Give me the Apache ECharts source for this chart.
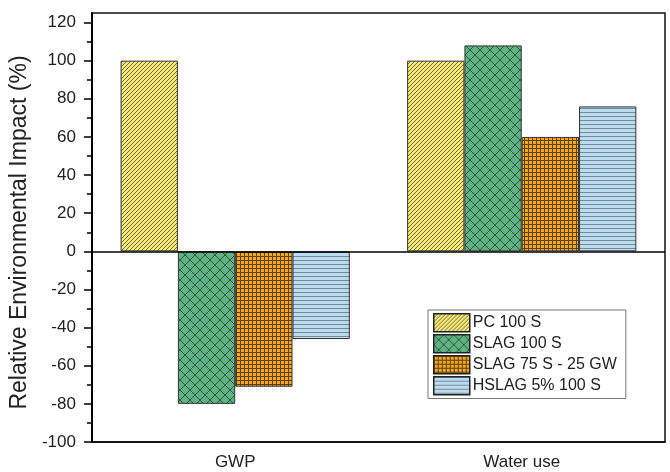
<!DOCTYPE html>
<html>
<head>
<meta charset="utf-8">
<title>Relative Environmental Impact</title>
<script src="https://cdn.jsdelivr.net/npm/echarts@6/dist/echarts.min.js"></script>
<style>
	html, body { margin: 0; padding: 0; background: #fff; }
	#chart { width: 670px; height: 472px; }
</style>
</head>
<body>
<div id="chart"></div>
<script>
var categories = ['GWP', 'Water use'];
var seriesNames = ['PC 100 S', 'SLAG 100 S', 'SLAG 75 S - 25 GW', 'HSLAG 5% 100 S'];
var pc100 = [100, 100];
var slag100 = [-80, 108];
var slag75 = [-71, 60];
var hslag = [-46, 76];
var majorTicks = [-100, -80, -60, -40, -20, 0, 20, 40, 60, 80, 100, 120];
var minorTicks = [-90, -70, -50, -30, -10, 10, 30, 50, 70, 90, 110];

var main = {
	init: function() {
		main.chart()
	},
	// 画填充图案
	pattern: function(bg, fg, size, draw) {
		var c = document.createElement('canvas');
		c.width = size;
		c.height = size;
		var ctx = c.getContext('2d');
		ctx.fillStyle = bg;
		ctx.fillRect(0, 0, size, size);
		ctx.strokeStyle = fg;
		ctx.lineWidth = 1;
		draw(ctx, size);
		return { image: c, repeat: 'repeat' };
	},
	chart: function() {
		var myChart = echarts.init(document.getElementById('chart'));
		var font = 'Liberation Sans';

		var diag = main.pattern('#f7ea78', '#6e6a35', 4, function(ctx, s) {
			ctx.beginPath();
			ctx.moveTo(-1, s + 1); ctx.lineTo(s + 1, -1);
			ctx.moveTo(-1, 1); ctx.lineTo(1, -1);
			ctx.moveTo(s - 1, s + 1); ctx.lineTo(s + 1, s - 1);
			ctx.stroke();
		});
		var cross = main.pattern('#5fb283', '#2b5a3c', 10, function(ctx, s) {
			ctx.beginPath();
			ctx.moveTo(0, 0); ctx.lineTo(s, s);
			ctx.moveTo(s, 0); ctx.lineTo(0, s);
			ctx.stroke();
		});
		var grid = main.pattern('#f6a91c', '#5c4010', 4, function(ctx, s) {
			ctx.beginPath();
			ctx.moveTo(0.5, 0); ctx.lineTo(0.5, s);
			ctx.moveTo(0, 0.5); ctx.lineTo(s, 0.5);
			ctx.stroke();
		});
		var horiz = main.pattern('#badcf2', '#7a8892', 4, function(ctx, s) {
			ctx.beginPath();
			ctx.moveTo(0, 0.5); ctx.lineTo(s, 0.5);
			ctx.stroke();
		});

		var values = [pc100, slag100, slag75, hslag];
		var fills = [diag, cross, grid, horiz];
		var series = [];
		for (var i = 0; i < values.length; i++) {
			var s = {
				name: seriesNames[i],
				type: 'bar',
				barGap: 0,
				barCategoryGap: '20%',
				itemStyle: {
					color: fills[i],
					borderColor: '#333',
					borderWidth: 1
				},
				data: values[i]
			};
			if (i === 0) {
				// 零线
				s.markLine = {
					silent: true,
					symbol: 'none',
					label: { show: false },
					lineStyle: { color: '#000', width: 1.5, type: 'solid' },
					data: [{ yAxis: 0 }]
				};
			}
			series.push(s);
		}

		var option = {
			animation: false,
			textStyle: { fontFamily: font },
			grid: {
				show: true,
				left: 91,
				right: 5,
				top: 13,
				bottom: 30,
				borderColor: '#111',
				borderWidth: 1.5
			},
			legend: {
				orient: 'vertical',
				left: 428,
				top: 310,
				itemWidth: 36,
				itemHeight: 18,
				itemGap: 1.5,
				padding: [3, 9, 3, 5],
				borderColor: '#777',
				borderWidth: 1,
				icon: 'rect',
				itemStyle: { borderColor: '#222', borderWidth: 1.5 },
				textStyle: { fontSize: 16, color: '#222', fontFamily: font, padding: [0, 0, 0, -2] },
				data: seriesNames
			},
			xAxis: {
				type: 'category',
				data: categories,
				axisLine: { onZero: false, lineStyle: { color: '#000', width: 1.5 } },
				axisTick: { alignWithLabel: true, length: 7, lineStyle: { color: '#000', width: 1.5 } },
				axisLabel: { fontSize: 17, color: '#222', margin: 12 },
				splitLine: { show: false }
			},
			yAxis: [{
				type: 'value',
				min: -100,
				max: 125,
				interval: 20,
				name: 'Relative Environmental Impact (%)',
				nameLocation: 'middle',
				nameGap: 58,
				nameTextStyle: { fontSize: 23, color: '#222', padding: [0, 10, 0, 0] },
				axisLine: { show: true, lineStyle: { color: '#000', width: 2 } },
				axisTick: { show: true, length: 8, customValues: majorTicks, lineStyle: { color: '#000', width: 1.5 } },
				axisLabel: { fontSize: 17, color: '#222', margin: 16, customValues: majorTicks },
				splitLine: { show: false }
			}, {
				type: 'value',
				position: 'left',
				min: -100,
				max: 125,
				axisLine: { show: false },
				axisTick: { show: true, length: 5, customValues: minorTicks, lineStyle: { color: '#000', width: 1.5 } },
				axisLabel: { show: false },
				splitLine: { show: false }
			}],
			series: series
		};

		myChart.setOption(option);
	}
}

main.init()
</script>
</body>
</html>
